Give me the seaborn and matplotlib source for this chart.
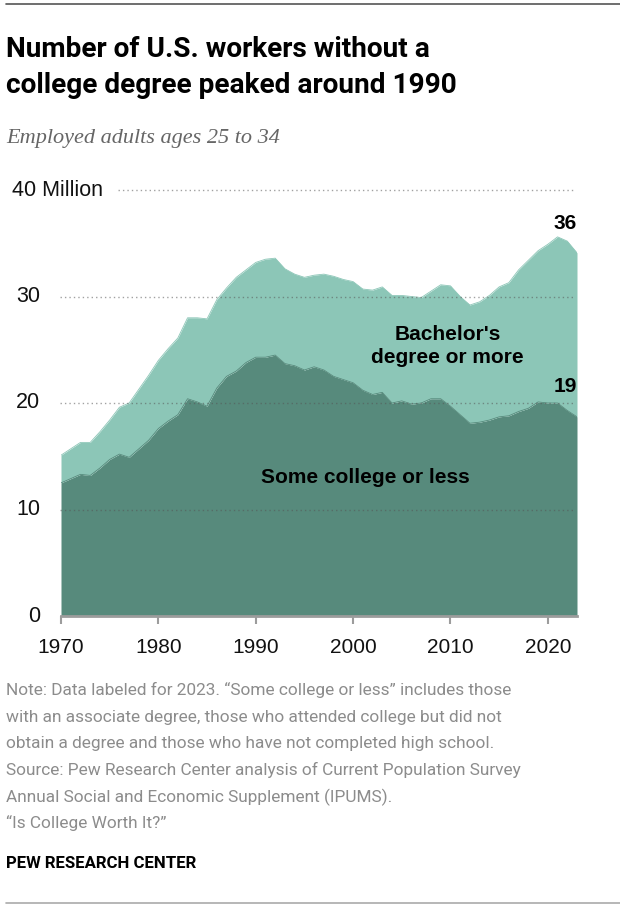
import numpy as np
import pandas as pd
import matplotlib
matplotlib.use("Agg")
import matplotlib.pyplot as plt
from matplotlib.lines import Line2D
import seaborn as sns

# values (millions of employed adults ages 25-34)
years = list(range(1970, 2024))
some_college = [12.5, 12.9, 13.3, 13.2, 13.9, 14.7, 15.2, 14.9, 15.7, 16.5,
                17.6, 18.3, 18.9, 20.4, 20.1, 19.7, 21.4, 22.5, 23.0, 23.8,
                24.3, 24.3, 24.5, 23.7, 23.5, 23.1, 23.4, 23.1, 22.5, 22.2,
                21.9, 21.2, 20.8, 21.0, 20.0, 20.2, 19.9, 20.0, 20.4, 20.4,
                19.7, 18.9, 18.1, 18.2, 18.4, 18.7, 18.8, 19.2, 19.5, 20.1,
                20.0, 20.0, 19.3, 18.7]
bachelors = [2.6, 2.8, 3.0, 3.1, 3.4, 3.7, 4.4, 5.1, 5.6, 6.1,
             6.4, 6.8, 7.2, 7.6, 7.9, 8.2, 8.3, 8.3, 8.8, 8.7,
             8.9, 9.2, 9.1, 8.9, 8.6, 8.7, 8.6, 9.0, 9.4, 9.4,
             9.5, 9.5, 9.8, 9.9, 10.1, 9.9, 10.1, 9.9, 10.1, 10.7,
             11.3, 11.1, 11.1, 11.3, 11.7, 12.2, 12.5, 13.3, 13.9, 14.2,
             14.9, 15.6, 15.9, 15.4]
end_labels = ["36", "19"]
y_ticks = [0, 10, 20, 30, 40]
x_ticks = [1970, 1980, 1990, 2000, 2010, 2020]

df = pd.DataFrame({"year": years, "some": some_college, "ba": bachelors})
df["total"] = df["some"] + df["ba"]

DARK = "#578a7c"
LIGHT = "#8cc6b7"
NOTE = "#8c8c8c"

sns.set_theme(style="white")
plt.rcParams["font.family"] = ["Liberation Sans", "DejaVu Sans"]

W, H = 620, 908
fig = plt.figure(figsize=(W / 100, H / 100), dpi=100)
renderer = fig.canvas.get_renderer()


def fx(x):
    return x / W


def fy(y):
    return 1 - y / H


def fit(txt, target_px):
    # shrink/grow a text so its drawn width matches the reference
    w = txt.get_window_extent(renderer=renderer).width
    size = txt.get_fontsize() * target_px / w
    txt.set_fontsize(size)
    return size


ax = fig.add_axes([fx(61), fy(616), (577 - 61) / W, (616 - 190) / H])
ax.fill_between(df["year"], 0, df["some"], color=DARK, lw=0, zorder=1)
ax.fill_between(df["year"], df["some"], df["total"], color=LIGHT, lw=0, zorder=1)
sns.lineplot(x="year", y="some", data=df, ax=ax, color=DARK, lw=0.6, zorder=1)
sns.lineplot(x="year", y="total", data=df, ax=ax, color=LIGHT, lw=0.6, zorder=1)

ax.set_xlim(1970, 2023)
ax.set_ylim(0, 40)

# dotted gridlines drawn over the areas
for v in y_ticks[1:]:
    start = 1975.9 if v == 40 else 1969.9
    ax.hlines(v, start, 2022.7, colors="#555555", alpha=0.55, lw=1.0,
              linestyles=(0, (1, 2.2)), zorder=3, clip_on=False)

for s in ["top", "left", "right"]:
    ax.spines[s].set_visible(False)
ax.spines["bottom"].set_color("#9c9c9c")
ax.spines["bottom"].set_linewidth(2)
ax.spines["bottom"].set_zorder(4)

ax.set_xticks(x_ticks)
ax.set_xticklabels([str(t) for t in x_ticks])
ax.tick_params(axis="x", length=6, width=1.5, color="#9c9c9c", pad=10,
               labelsize=15, labelcolor="#111111", bottom=True)
ax.set_yticks([])
ax.set_xlabel("")
ax.set_ylabel("")

for v in y_ticks:
    ypix = 616 - v * 10.65
    if v == 40:
        fig.text(fx(12), fy(ypix), "40 Million", ha="left", va="center",
                 fontsize=15.5, color="#111111")
    else:
        fig.text(fx(40), fy(ypix), str(v), ha="right", va="center",
                 fontsize=15.5, color="#111111")

# in-chart labels
ax.text(2009.7, 25.35, "Bachelor's\ndegree or more", ha="center", va="center",
        fontsize=15, fontweight="bold", color="black", zorder=5,
        linespacing=1.3)
ax.text(2001.3, 12.5, "Some college or less", ha="center", va="baseline",
        fontsize=15, fontweight="bold", color="black", zorder=5)
ax.text(2023, 36.3, end_labels[0], ha="right", va="baseline",
        fontsize=15, fontweight="bold", color="black", zorder=5)
ax.text(2023, 21.0, end_labels[1], ha="right", va="baseline",
        fontsize=15, fontweight="bold", color="black", zorder=5)

# title block
narrow = ["Roboto", "DejaVu Sans"]
fig.add_artist(Line2D([fx(6), 1], [fy(4), fy(4)], color="#555555", lw=1.2,
                      transform=fig.transFigure))
t1 = fig.text(fx(6), fy(57.3), "Number of U.S. workers without a", ha="left",
              va="baseline", fontsize=20.5, fontweight="bold", family=narrow,
              color="black")
t2 = fig.text(fx(6), fy(93.3), "college degree peaked around 1990", ha="left",
              va="baseline", fontsize=20.5, fontweight="bold", family=narrow,
              color="black")
tsize = fit(t1, 424)
t2.set_fontsize(tsize)
fig.text(fx(6), fy(143.3), "Employed adults ages 25 to 34", ha="left",
         va="baseline", fontsize=16, style="italic",
         family=["Liberation Serif", "DejaVu Serif"], color="#666666")

# notes
notes = [
    "Note: Data labeled for 2023. \u201cSome college or less\u201d includes those",
    "with an associate degree, those who attended college but did not",
    "obtain a degree and those who have not completed high school.",
    "Source: Pew Research Center analysis of Current Population Survey",
    "Annual Social and Economic Supplement (IPUMS).",
    "\u201cIs College Worth It?\u201d",
]
note_txt = []
for i, line in enumerate(notes):
    note_txt.append(fig.text(fx(6), fy(695 + i * 26.67), line, ha="left",
                             va="baseline", fontsize=13, family=narrow,
                             color=NOTE))
nsize = fit(note_txt[0], 504)
for t in note_txt[1:]:
    t.set_fontsize(nsize)
pew = fig.text(fx(6), fy(867.7), "PEW RESEARCH CENTER", ha="left",
               va="baseline", fontsize=13, fontweight="bold", family=narrow,
               color="black")
fit(pew, 190)
fig.add_artist(Line2D([fx(6), 1], [fy(902.7), fy(902.7)], color="#aaaaaa",
                      lw=1.2, transform=fig.transFigure))

fig.savefig("out.png", dpi=100)
